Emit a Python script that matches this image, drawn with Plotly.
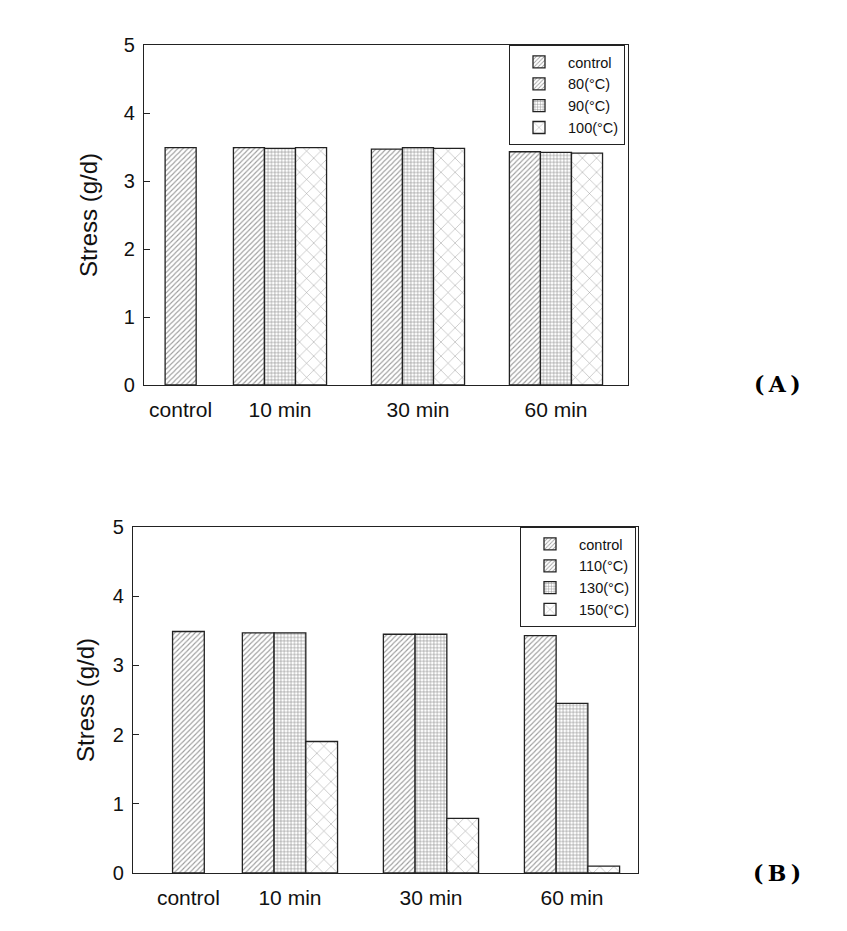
import plotly.graph_objects as go

# ---------------- data ----------------
categories = ["control", "10 min", "30 min", "60 min"]
time_cats = ["10 min", "30 min", "60 min"]

control_A = [3.49]
s80 = [3.49, 3.47, 3.43]
s90 = [3.48, 3.49, 3.42]
s100 = [3.49, 3.48, 3.41]
names_A = ["control", "80(°C)", "90(°C)", "100(°C)"]

control_B = [3.49]
s110 = [3.47, 3.45, 3.43]
s130 = [3.47, 3.45, 2.45]
s150 = [1.90, 0.79, 0.10]
names_B = ["control", "110(°C)", "130(°C)", "150(°C)"]

y_ticks = [0, 1, 2, 3, 4, 5]

# ---------------- layout constants ----------------
POS = {"control": 0.28, "10 min": 1, "30 min": 2, "60 min": 3}
W = 0.225
FONT = "Arial, Liberation Sans, sans-serif"
LINE = dict(color="#222222", width=1.3)

patterns = [
    dict(shape="/", size=3.6, solidity=0.3, fgcolor="#3a3a3a", bgcolor="white"),
    dict(shape="/", size=3.6, solidity=0.3, fgcolor="#3a3a3a", bgcolor="white"),
    dict(shape="+", size=3.4, solidity=0.33, fgcolor="#2a2a2a", bgcolor="white"),
    dict(shape="x", size=10, solidity=0.1, fgcolor="#3a3a3a", bgcolor="white"),
]

fig = go.Figure()


def add_panel(ctrl, series, names, xa, ya, legend):
    fig.add_trace(go.Bar(
        x=[POS["control"]], y=ctrl, width=W, offset=-0.5 * W,
        name=names[0], marker=dict(pattern=patterns[0], line=LINE, color="white"),
        xaxis=xa, yaxis=ya, legend=legend))
    for i, s in enumerate(series):
        fig.add_trace(go.Bar(
            x=[POS[c] for c in time_cats], y=s, width=W, offset=(-1.5 + i) * W,
            name=names[i + 1],
            marker=dict(pattern=patterns[i + 1], line=LINE, color="white"),
            xaxis=xa, yaxis=ya, legend=legend))


add_panel(control_A, [s80, s90, s100], names_A, "x", "y", "legend")
add_panel(control_B, [s110, s130, s150], names_B, "x2", "y2", "legend2")

axis_common = dict(showline=True, linecolor="#222222", linewidth=1.3, mirror=True,
                   showgrid=False, zeroline=False, automargin=False)

xcommon = dict(axis_common, tickvals=[POS[c] for c in categories], ticktext=categories,
               ticks="", tickfont=dict(family=FONT, size=21, color="#111111"),
               ticklabelstandoff=6)


def ycommon(standoff):
    return dict(axis_common, range=[0, 5], tickvals=y_ticks, ticks="inside",
                ticklen=6, tickwidth=1.2, tickcolor="#222222",
                tickfont=dict(family=FONT, size=20, color="#111111"),
                ticklabelstandoff=4,
                title=dict(text="Stress (g/d)", font=dict(family=FONT, size=24, color="#111111"),
                           standoff=standoff))


legend_common = dict(bgcolor="white", bordercolor="#222222", borderwidth=1,
                     font=dict(family=FONT, size=14.5, color="#111111"),
                     xanchor="right", yanchor="top", tracegroupgap=0,
                     traceorder="normal", itemwidth=48)

label_font = dict(family="DejaVu Serif, serif", size=22, color="black")

fig.update_layout(
    width=847, height=931,
    margin=dict(l=0, r=0, t=0, b=0),
    paper_bgcolor="white", plot_bgcolor="white",
    barmode="overlay",
    showlegend=True,
    xaxis=dict(xcommon, domain=[144 / 847, 628 / 847], range=[0.0145, 3.522], anchor="y"),
    yaxis=dict(ycommon(19), domain=[1 - 385 / 931, 1 - 45 / 931], anchor="x"),
    xaxis2=dict(xcommon, domain=[133 / 847, 638 / 847], range=[-0.113, 3.468], anchor="y2"),
    yaxis2=dict(ycommon(11), domain=[1 - 873 / 931, 1 - 527 / 931], anchor="x2"),
    legend=dict(legend_common, x=625 / 847, y=1 - 45 / 931),
    legend2=dict(legend_common, x=636 / 847, y=1 - 527 / 931),
    annotations=[
        dict(text="<b>(\u2009A\u2009)</b>", x=777 / 847, y=1 - 384 / 931, xref="paper", yref="paper",
             xanchor="center", yanchor="middle", showarrow=False, font=label_font),
        dict(text="<b>(\u2009B\u2009)</b>", x=777 / 847, y=1 - 873 / 931, xref="paper", yref="paper",
             xanchor="center", yanchor="middle", showarrow=False, font=label_font),
    ],
)

fig.write_html("out.html")
